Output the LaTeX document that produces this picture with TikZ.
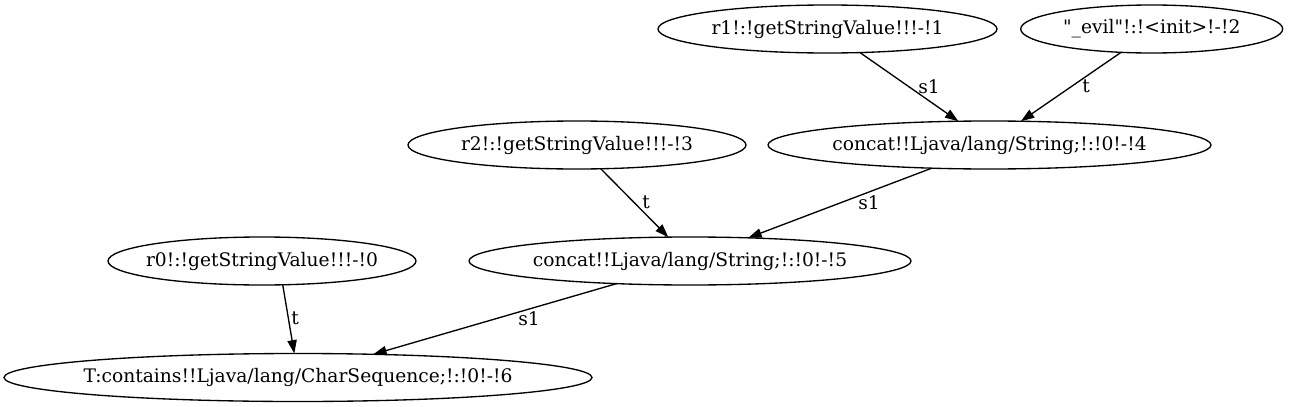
\documentclass[tikz,border=0pt]{standalone}
\usepackage{fontspec}
\setmainfont{DejaVu Serif}
\usetikzlibrary{shapes.geometric,arrows.meta,calc}
\begin{document}
\begin{tikzpicture}[x=0.75pt,y=-0.75pt,
  ell/.style={ellipse, draw, line width=1pt, inner sep=0pt, minimum height=36pt, font=\fontsize{14pt}{16pt}\selectfont},
  edge/.style={draw, line width=1pt, -{Triangle[length=10pt,width=7pt]}},
  lab/.style={inner sep=0pt, font=\fontsize{14pt}{16pt}\selectfont}]
\useasboundingbox (0,0) rectangle (1289,407);
\node[ell, minimum width=254.25pt] (r1) at (827.5,29) {\makebox[0pt]{r1!:!getStringValue!!!-!1}};
\node[ell, minimum width=196.5pt] (ev) at (1151.7,29) {\makebox[0pt]{\textquotedbl\_evil\textquotedbl!:!<init>!-!2}};
\node[ell, minimum width=253.5pt] (r2) at (577,145) {\makebox[0pt]{r2!:!getStringValue!!!-!3}};
\node[ell, minimum width=332.25pt] (c4) at (989.5,145) {\makebox[0pt]{concat!!Ljava/lang/String;!:!0!-!4}};
\node[ell, minimum width=231pt] (r0) at (262,261) {\makebox[0pt]{r0!:!getStringValue!!!-!0}};
\node[ell, minimum width=331.5pt] (c5) at (690,261) {\makebox[0pt]{concat!!Ljava/lang/String;!:!0!-!5}};
\node[ell, minimum width=441pt] (T) at (298,377.5) {\makebox[0pt]{T:contains!!Ljava/lang/CharSequence;!:!0!-!6}};
\path[edge] ($(r1)+(32.5,23.6)$) -- ($(c4)+(-31.2,-23.8)$) node[lab, at={(929,86.5)}] (l1) {s1};
\path[edge] ($(ev)+(-30.7,23.4)$) -- ($(c4)+(31.5,-23.8)$) node[lab, at={(1086,86.5)}] (l2) {t};
\path[edge] ($(r2)+(23.7,23.7)$) -- ($(c5)+(-21.7,-23.9)$) node[lab, at={(646,202.5)}] (l3) {t};
\path[edge] ($(c4)+(-57.8,23.2)$) -- ($(c5)+(58.3,-23.2)$) node[lab, at={(869,202.5)}] (l4) {s1};
\path[edge] ($(r0)+(20.7,23.7)$) -- ($(T)+(-3.7,-24)$) node[lab, at={(295,318)}] (l5) {t};
\path[edge] ($(c5)+(-73.3,22.6)$) -- ($(T)+(75.3,-23.2)$) node[lab, at={(529,319)}] (l6) {s1};
\end{tikzpicture}
\end{document}
